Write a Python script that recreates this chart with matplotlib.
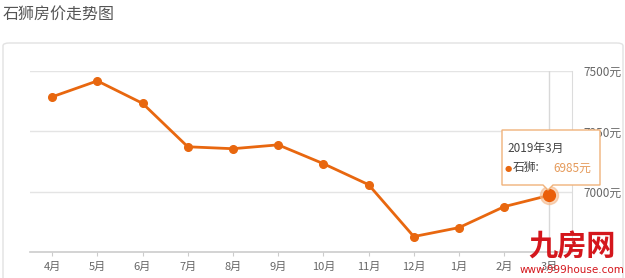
import matplotlib
matplotlib.use("Agg")
from matplotlib import pyplot as plt
from matplotlib.patches import FancyBboxPatch, Polygon
import numpy as np

plt.rcParams['font.family'] = ['Noto Sans CJK SC', 'DejaVu Sans']

# data
months = ['4月', '5月', '6月', '7月', '8月', '9月', '10月', '11月', '12月', '1月', '2月', '3月']
prices = [7393, 7459, 7366, 7186, 7178, 7194, 7116, 7029, 6814, 6851, 6938, 6985]
y_ticks = [7000, 7250, 7500]
y_labels = ['7000元', '7250元', '7500元']
series_name = '石狮'
tip_title = '2019年3月'

W, H = 625, 278
line_c = '#e8670f'


def px(x, y):
    # pixel (top-left origin) -> figure fraction
    return x / W, 1 - y / H


fig = plt.figure(figsize=(W / 100, H / 100), dpi=100)

# panel frame
panel = FancyBboxPatch(px(3, 290), (623 - 3) / W, (290 - 43) / H,
                       boxstyle="round,pad=0,rounding_size=0.01",
                       transform=fig.transFigure, facecolor='white',
                       edgecolor='#e2e2e2', linewidth=1.0, zorder=-5)
fig.patches.append(panel)

fig.text(*px(3, 14), '石狮房价走势图', fontsize=11.5, color='#555555', va='center', ha='left')

ax = fig.add_axes([30 / W, (H - 252) / H, (572 - 30) / W, (252 - 71) / H])
ax.set_facecolor('none')
ax.set_zorder(1)
x = np.arange(len(months))

ax.set_xlim(-0.49, len(months) - 0.5)
ax.set_ylim(6750, 7500)

for v in y_ticks:
    ax.axhline(v, color='#e4e4e4', linewidth=1.0, zorder=1)

# crosshair on last point
ax.axvline(x[-1], color='#d8d8d8', linewidth=1.0, zorder=1)

ax.plot(x, prices, color=line_c, linewidth=2.0, marker='o', markersize=5.5,
        markerfacecolor=line_c, markeredgecolor=line_c, zorder=3, solid_capstyle='round')
# highlighted point
ax.plot(x[-1], prices[-1], 'o', markersize=13, color='#f5b98c', alpha=0.6, zorder=4)
ax.plot(x[-1], prices[-1], 'o', markersize=8.5, color='#ea5e0a', zorder=5)

for s in ['top', 'left']:
    ax.spines[s].set_visible(False)
ax.spines['right'].set_color('#dcdcdc')
ax.spines['bottom'].set_color('#cccccc')
ax.spines['bottom'].set_linewidth(1.2)

ax.set_xticks(x)
ax.set_xticklabels(months, fontsize=8, color='#666666')
ax.tick_params(axis='x', length=3, color='#cccccc', pad=4)

ax.yaxis.tick_right()
ax.set_yticks(y_ticks)
ax.set_yticklabels(y_labels, fontsize=8.5, color='#666666')
ax.tick_params(axis='y', length=0, pad=8)

# tooltip
tip = [(502, 130), (600, 130), (600, 185), (553, 185), (548, 190), (543, 185), (502, 185)]
fig.patches.append(Polygon([px(a, b) for a, b in tip], closed=True, transform=fig.transFigure,
                           facecolor='white', edgecolor='#f0b27a', linewidth=1.0, zorder=10))
fig.text(*px(507, 148), tip_title, fontsize=8.5, color='#444444', va='center', ha='left', zorder=11)
fig.text(*px(505, 168), '●', fontsize=6, color=line_c, va='center', ha='left', zorder=11,
         family='DejaVu Sans')
fig.text(*px(513, 168), series_name + ':', fontsize=8.5, color='#444444', va='center', ha='left', zorder=11)
fig.text(*px(553, 168), '%d元' % prices[-1], fontsize=8.5, color='#e59a5a', va='center', ha='left', zorder=11)

# watermark
fig.text(*px(572, 247), '九房网', fontsize=21, color='#d4161c', fontweight='bold',
         va='center', ha='center', zorder=12)
fig.text(*px(572, 270), 'www.999house.com', fontsize=7.5, color='#d4161c',
         va='center', ha='center', zorder=12, family='DejaVu Sans')

fig.savefig('out.png', dpi=100)
